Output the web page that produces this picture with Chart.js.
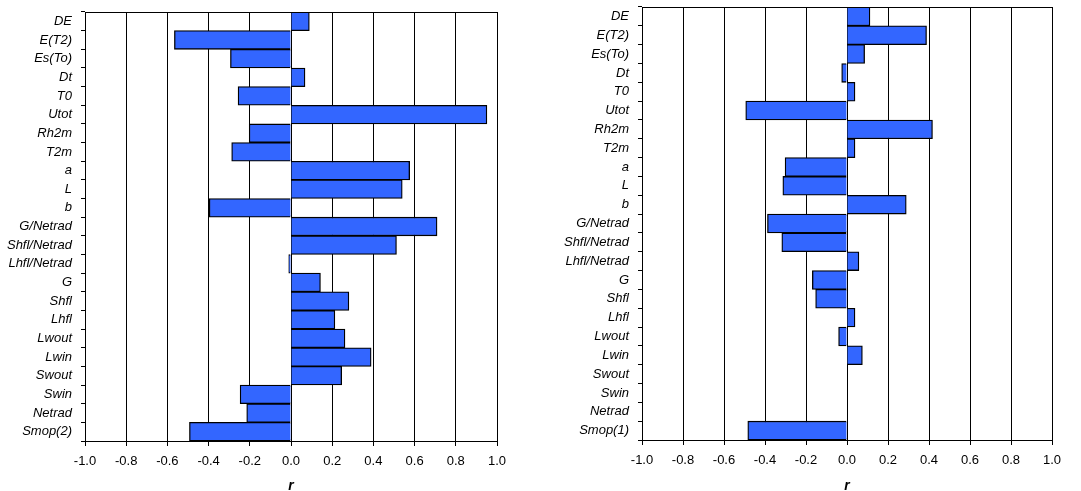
<!DOCTYPE html>
<html>
<head>
<meta charset="utf-8">
<script src="https://cdn.jsdelivr.net/npm/chart.js@4"></script>
<style>
  body { margin: 0; background: #fff; }
  .box { position: absolute; top: 0; height: 491px; }
  #leftBox { left: 0; width: 540px; }
  #rightBox { left: 540px; width: 541px; }
</style>
</head>
<body>
<div class="box" id="leftBox"><canvas id="leftChart"></canvas></div>
<div class="box" id="rightBox"><canvas id="rightChart"></canvas></div>
<script>
// variables, top to bottom
const leftLabels = ['DE', 'E(T2)', 'Es(To)', 'Dt', 'T0', 'Utot', 'Rh2m', 'T2m', 'a', 'L', 'b',
  'G/Netrad', 'Shfl/Netrad', 'Lhfl/Netrad', 'G', 'Shfl', 'Lhfl', 'Lwout', 'Lwin', 'Swout',
  'Swin', 'Netrad', 'Smop(2)'];
const rightLabels = ['DE', 'E(T2)', 'Es(To)', 'Dt', 'T0', 'Utot', 'Rh2m', 'T2m', 'a', 'L', 'b',
  'G/Netrad', 'Shfl/Netrad', 'Lhfl/Netrad', 'G', 'Shfl', 'Lhfl', 'Lwout', 'Lwin', 'Swout',
  'Swin', 'Netrad', 'Smop(1)'];

// correlation r
const leftValues = [0.089, -0.566, -0.294, 0.068, -0.257, 0.951, -0.203, -0.288, 0.576, 0.540, -0.397,
  0.709, 0.512, -0.011, 0.143, 0.281, 0.213, 0.262, 0.389, 0.246, -0.247, -0.215, -0.493];
const rightValues = [0.112, 0.388, 0.086, -0.026, 0.039, -0.494, 0.417, 0.039, -0.302, -0.313, 0.289,
  -0.388, -0.318, 0.058, -0.169, -0.153, 0.039, -0.041, 0.075, null, null, null, -0.484];

const xTicks = [-1.0, -0.8, -0.6, -0.4, -0.2, 0.0, 0.2, 0.4, 0.6, 0.8, 1.0];

Chart.defaults.font.family = 'Arial, "Liberation Sans", sans-serif';
Chart.defaults.color = '#000';

// box around plot area (top + right edges)
const frame = {
  id: 'frame',
  afterDraw(chart) {
    const a = chart.chartArea, c = chart.ctx;
    c.save();
    c.strokeStyle = '#000';
    c.lineWidth = 1;
    c.strokeRect(Math.round(a.left) + 0.5, Math.round(a.top) + 0.5,
      Math.round(a.right - a.left), Math.round(a.bottom - a.top));
    c.restore();
  }
};

function makeChart(id, labels, values, yWidth, xHeight, padTop, padRight) {
  const ctx = document.getElementById(id).getContext('2d');
  return new Chart(ctx, {
    type: 'bar',
    data: {
      labels: labels,
      datasets: [{
        data: values,
        backgroundColor: '#3366FF',
        borderColor: '#000',
        borderWidth: 1.3,
        categoryPercentage: 1.0,
        barPercentage: 1.0
      }]
    },
    options: {
      indexAxis: 'y',
      responsive: true,
      maintainAspectRatio: false,
      animation: false,
      layout: { padding: { top: padTop, right: padRight, left: 0, bottom: 0 } },
      plugins: {
        legend: { display: false },
        tooltip: { enabled: false }
      },
      scales: {
        x: {
          type: 'linear',
          min: -1, max: 1,
          afterBuildTicks: (s) => { s.ticks = xTicks.map(v => ({ value: v })); },
          afterFit: (s) => { s.height = xHeight; s.paddingLeft = 0; s.paddingRight = 0; },
          grid: { color: '#000', lineWidth: 1, tickLength: 5, drawTicks: true },
          border: { color: '#000' },
          ticks: {
            font: { size: 13 },
            padding: 8,
            callback: (v) => Number(v).toFixed(1)
          },
          title: {
            display: true,
            text: 'r',
            font: { size: 14, style: 'italic', weight: 'bold' },
            padding: { top: 8, bottom: -4 }
          }
        },
        y: {
          afterFit: (s) => { s.width = yWidth; s.paddingTop = 0; s.paddingBottom = 0; },
          grid: { drawOnChartArea: false, color: '#000', tickLength: 4, offset: true },
          border: { color: '#000' },
          ticks: {
            font: { size: 13, style: 'italic' },
            padding: 9,
            autoSkip: false
          }
        }
      }
    },
    plugins: [frame]
  });
}

makeChart('leftChart', leftLabels, leftValues, 85, 50, 12, 43);
makeChart('rightChart', rightLabels, rightValues, 102, 51, 7, 29);
</script>
</body>
</html>
